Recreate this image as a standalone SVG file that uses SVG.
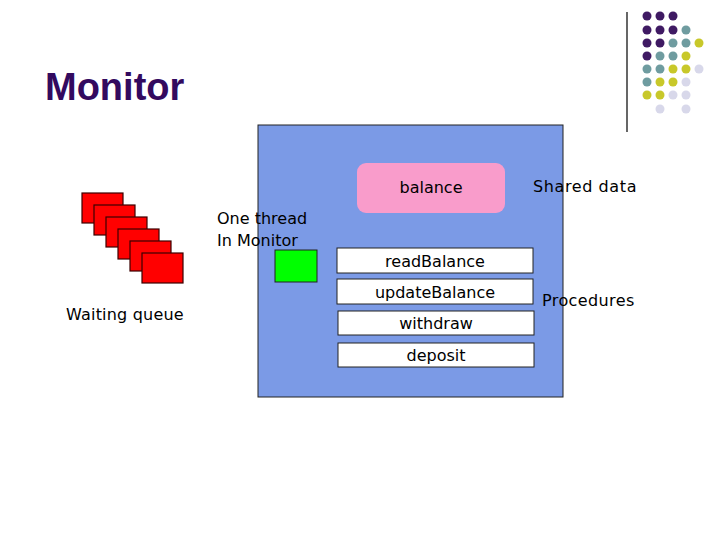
<svg xmlns="http://www.w3.org/2000/svg" width="720" height="540" viewBox="0 0 720 540">
<style>
.t{font-family:"DejaVu Sans","Liberation Sans",sans-serif;font-size:16px;fill:#000}
.c{text-anchor:middle}
.q{fill:#ff0000;stroke:#3a0000;stroke-width:1.2}
.p{fill:#ffffff;stroke:#222;stroke-width:1}
.dp{fill:#3f1a63}.dt{fill:#6f9ca0}.dy{fill:#c8c82a}.dl{fill:#d8d8ea}
</style>
<rect width="720" height="540" fill="#ffffff"/>
<g id="deco">
<line x1="627" y1="12" x2="627" y2="132" stroke="#000" stroke-width="1.2"/>
<circle class="dp" cx="647" cy="16" r="4.5"/><circle class="dp" cx="660" cy="16" r="4.5"/><circle class="dp" cx="673" cy="16" r="4.5"/>
<circle class="dp" cx="647" cy="30" r="4.5"/><circle class="dp" cx="660" cy="30" r="4.5"/><circle class="dp" cx="673" cy="30" r="4.5"/><circle class="dt" cx="686" cy="30" r="4.5"/>
<circle class="dp" cx="647" cy="43" r="4.5"/><circle class="dp" cx="660" cy="43" r="4.5"/><circle class="dt" cx="673" cy="43" r="4.5"/><circle class="dt" cx="686" cy="43" r="4.5"/><circle class="dy" cx="699" cy="43" r="4.5"/>
<circle class="dp" cx="647" cy="56" r="4.5"/><circle class="dt" cx="660" cy="56" r="4.5"/><circle class="dt" cx="673" cy="56" r="4.5"/><circle class="dy" cx="686" cy="56" r="4.5"/>
<circle class="dt" cx="647" cy="69" r="4.5"/><circle class="dt" cx="660" cy="69" r="4.5"/><circle class="dy" cx="673" cy="69" r="4.5"/><circle class="dy" cx="686" cy="69" r="4.5"/><circle class="dl" cx="699" cy="69" r="4.5"/>
<circle class="dt" cx="647" cy="82" r="4.5"/><circle class="dy" cx="660" cy="82" r="4.5"/><circle class="dy" cx="673" cy="82" r="4.5"/><circle class="dl" cx="686" cy="82" r="4.5"/>
<circle class="dy" cx="647" cy="95" r="4.5"/><circle class="dy" cx="660" cy="95" r="4.5"/><circle class="dl" cx="673" cy="95" r="4.5"/><circle class="dl" cx="686" cy="95" r="4.5"/>
<circle class="dl" cx="660" cy="109" r="4.5"/><circle class="dl" cx="686" cy="109" r="4.5"/>
</g>
<text x="45" y="100" font-family="'Liberation Sans',Arial,sans-serif" font-size="38" font-weight="bold" fill="#330a5f">Monitor</text>
<g id="monitor">
<rect x="258" y="125" width="305" height="272" fill="#7b9ae6" stroke="#222" stroke-width="1"/>
</g>
<g id="balance">
<rect x="357" y="163" width="148" height="50" rx="9" fill="#f99ccb"/>
<text class="t c" x="431" y="193">balance</text>
</g>
<text class="t" x="533" y="192" letter-spacing="0.6">Shared data</text>
<g id="thread">
<rect x="275" y="250" width="42" height="32" fill="#00ff00" stroke="#222" stroke-width="1"/>
<text class="t" x="217" y="224">One thread</text>
<text class="t" x="217" y="246">In Monitor</text>
</g>
<g id="queue">
<rect class="q" x="82" y="193" width="41" height="30"/>
<rect class="q" x="94" y="205" width="41" height="30"/>
<rect class="q" x="106" y="217" width="41" height="30"/>
<rect class="q" x="118" y="229" width="41" height="30"/>
<rect class="q" x="130" y="241" width="41" height="30"/>
<rect class="q" x="142" y="253" width="41" height="30"/>
<text class="t" x="66" y="320" letter-spacing="0.2">Waiting queue</text>
</g>
<g id="readBalance"><rect class="p" x="337" y="248" width="196" height="25"/><text class="t c" x="435" y="267">readBalance</text></g>
<g id="updateBalance"><rect class="p" x="337" y="279" width="196" height="25"/><text class="t c" x="435" y="298">updateBalance</text></g>
<g id="withdraw"><rect class="p" x="338" y="311" width="196" height="24"/><text class="t c" x="436" y="329">withdraw</text></g>
<g id="deposit"><rect class="p" x="338" y="343" width="196" height="24"/><text class="t c" x="436" y="361">deposit</text></g>
<text class="t" x="542" y="306" letter-spacing="0.4">Procedures</text>
<g id="connectors"></g>
</svg>
